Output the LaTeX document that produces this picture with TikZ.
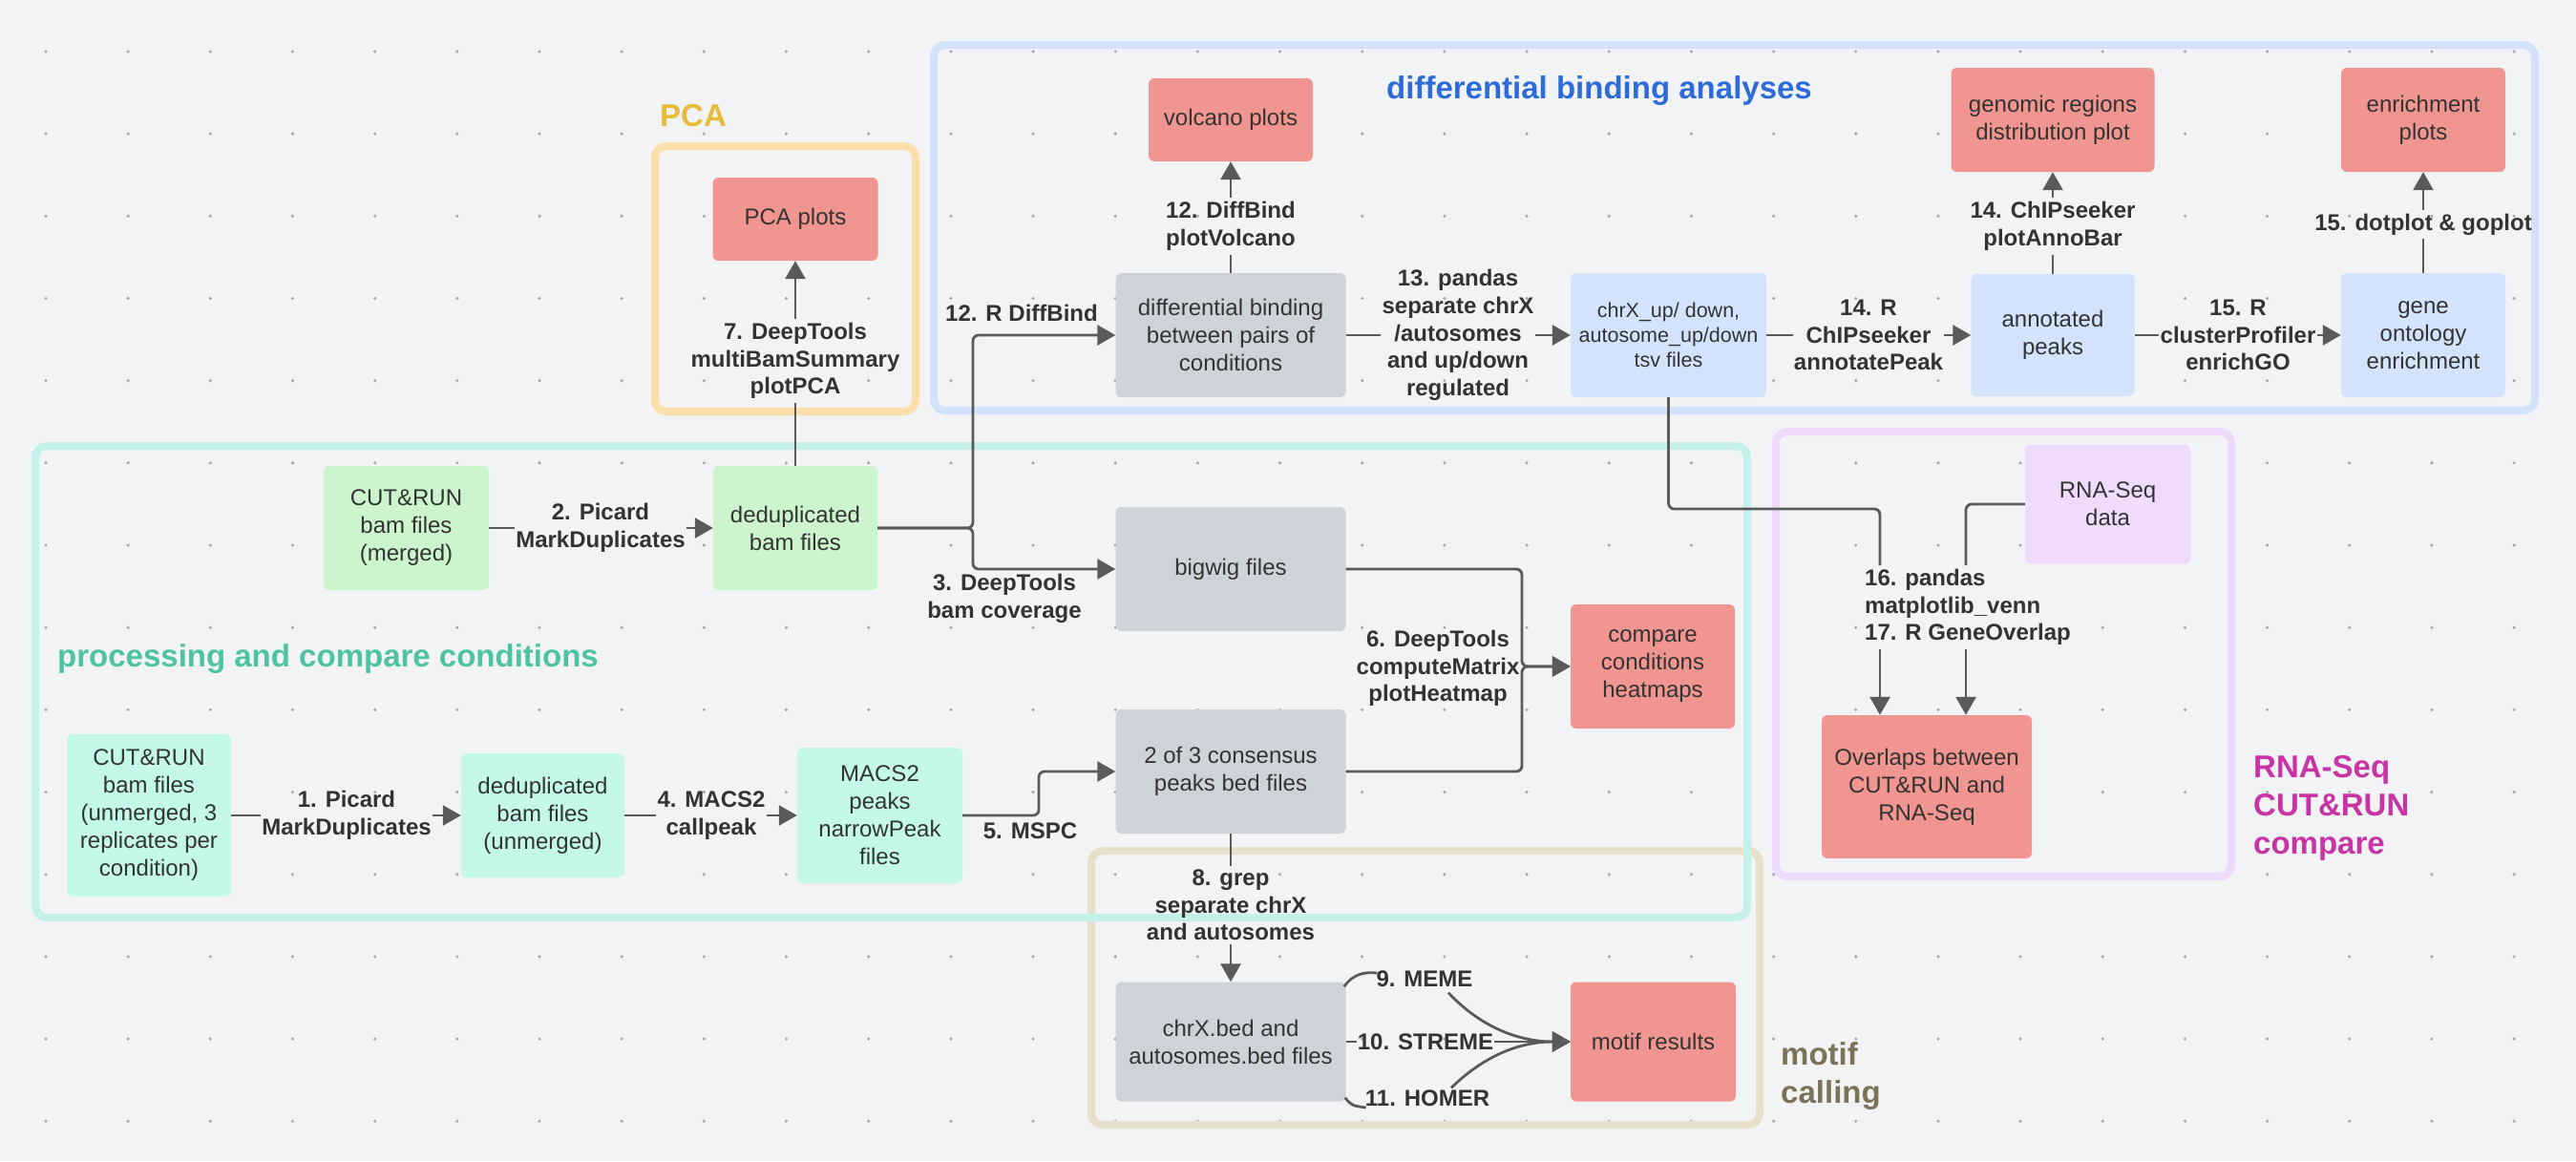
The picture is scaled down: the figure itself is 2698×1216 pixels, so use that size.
\documentclass[tikz,border=0pt]{standalone}
\usepackage{fontspec}
\setmainfont{Liberation Sans}
\usetikzlibrary{arrows.meta,calc}
\definecolor{bg}{HTML}{F2F3F5}
\definecolor{dotc}{HTML}{A3A6AA}
\definecolor{salmon}{HTML}{F09590}
\definecolor{grayB}{HTML}{CED3DA}
\definecolor{blueB}{HTML}{D3E3FC}
\definecolor{greenB}{HTML}{CCF5CD}
\definecolor{mintB}{HTML}{C4F9EA}
\definecolor{purpB}{HTML}{F0DBFD}
\definecolor{txt}{HTML}{333333}
\definecolor{connc}{HTML}{5A5A5A}
\definecolor{pcaF}{HTML}{FBDEA9}
\definecolor{pcaT}{HTML}{E6BD38}
\definecolor{blueF}{HTML}{D3E2FB}
\definecolor{blueT}{HTML}{2D6BDA}
\definecolor{tealF}{HTML}{C4F2EA}
\definecolor{tealT}{HTML}{4EC3A2}
\definecolor{motifF}{HTML}{E7E1CB}
\definecolor{motifT}{HTML}{7B7258}
\definecolor{purpF}{HTML}{EEDBFB}
\definecolor{purpT}{HTML}{C833A6}
\begin{document}
\begin{tikzpicture}[x=1pt,y=-1pt,
  box/.style={rectangle, rounded corners=6pt, align=center, inner sep=2pt, text=txt,
    font=\fontsize{24pt}{29pt}\selectfont},
  lbl/.style={align=center, inner xsep=1pt, inner ysep=4pt, text=txt,
    font=\fontsize{24pt}{28.6pt}\selectfont\bfseries},
  conn/.style={draw=connc, line width=2.8pt, rounded corners=6pt},
  arr/.style={conn, -{Triangle[length=19pt,width=21pt]}},
  frame/.style={line width=8pt, rounded corners=12pt},
  title/.style={font=\fontsize{33pt}{40pt}\selectfont\bfseries, align=left, inner sep=0pt}
]
\useasboundingbox (0,0) rectangle (2698,1216);
\fill[bg] (0,0) rectangle (2698,1216);
% dot grid
\foreach \i in {0,...,30} {
  \foreach \j in {0,...,13} {
    \fill[dotc] ({48+86.17*\i},{54+86.17*\j}) circle (1.7pt);
  }
}
% frames
\draw[frame, draw=pcaF] (686,153) rectangle (959,431);
\draw[frame, draw=blueF] (978,47) rectangle (2655,430);
\draw[frame, draw=motifF] (1143,891) rectangle (1843,1178);
\draw[frame, draw=tealF] (37,467) rectangle (1830,961);
\draw[frame, draw=purpF] (1860,452) rectangle (2337,918);
% titles
\node[title, text=pcaT] (tpca) at (726,121) {PCA};
\node[title, text=blueT] (tdiff) at (1675,95) {differential binding analyses};
\node[title, text=tealT, anchor=west] (tproc) at (60,690) {processing and compare conditions};
\node[title, text=motifT, anchor=west] (tmotif) at (1865,1127) {motif\\calling};
\node[title, text=purpT, anchor=west] (trna) at (2360,846) {RNA-Seq\\CUT\&RUN\\compare};
% boxes
\node[box, fill=salmon, minimum width=173pt, minimum height=87pt] (pca) at (833,229.5) {PCA plots};
\node[box, fill=salmon, minimum width=172pt, minimum height=87pt] (volc) at (1289,125.5) {volcano plots};
\node[box, fill=salmon, minimum width=213pt, minimum height=109pt] (geno) at (2150,125.5) {genomic regions\\distribution plot};
\node[box, fill=salmon, minimum width=172pt, minimum height=109pt] (enr) at (2538,125.5) {enrichment\\plots};
\node[box, fill=grayB, minimum width=241pt, minimum height=130pt] (diff) at (1289,351) {differential binding\\between pairs of\\conditions};
\node[box, fill=blueB, minimum width=205pt, minimum height=130pt, font=\fontsize{21.5pt}{26pt}\selectfont] (chrx) at (1747.5,351) {chrX\_up/ down,\\autosome\_up/down\\tsv files};
\node[box, fill=blueB, minimum width=171pt, minimum height=128pt] (anno) at (2150,351) {annotated\\peaks};
\node[box, fill=blueB, minimum width=172pt, minimum height=130pt] (gene) at (2538,351) {gene\\ontology\\enrichment};
\node[box, fill=greenB, minimum width=173pt, minimum height=130pt] (cutM) at (425.5,553) {CUT\&RUN\\bam files\\(merged)};
\node[box, fill=greenB, minimum width=172pt, minimum height=130pt] (dedM) at (833,553) {deduplicated\\bam files};
\node[box, fill=grayB, minimum width=241pt, minimum height=130pt] (bigw) at (1289,596) {bigwig files};
\node[box, fill=salmon, minimum width=172pt, minimum height=130pt] (cmp) at (1731,698) {compare\\conditions\\heatmaps};
\node[box, fill=grayB, minimum width=241pt, minimum height=130pt] (cons) at (1289,808) {2 of 3 consensus\\peaks bed files};
\node[box, fill=mintB, minimum width=172pt, minimum height=170pt] (cutU) at (156,854) {CUT\&RUN\\bam files\\(unmerged, 3\\replicates per\\condition)};
\node[box, fill=mintB, minimum width=171pt, minimum height=130pt] (dedU) at (568.5,854) {deduplicated\\bam files\\(unmerged)};
\node[box, fill=mintB, minimum width=173pt, minimum height=142pt] (macs) at (921.5,854) {MACS2\\peaks\\narrowPeak\\files};
\node[box, fill=purpB, minimum width=173pt, minimum height=125pt] (rna) at (2207.5,528) {RNA-Seq\\data};
\node[box, fill=salmon, minimum width=220pt, minimum height=150pt] (ovl) at (2018,824) {Overlaps between\\CUT\&RUN and\\RNA-Seq};
\node[box, fill=grayB, minimum width=241pt, minimum height=125pt] (bed) at (1289,1091) {chrX.bed and\\autosomes.bed files};
\node[box, fill=salmon, minimum width=173pt, minimum height=125pt] (motif) at (1731.5,1091) {motif results};
% labels
\node[lbl] (l1) at (363,854) {1. Picard\\MarkDuplicates};
\node[lbl] (l2) at (629,553) {2. Picard\\MarkDuplicates};
\node[lbl] (l3) at (1052,627) {3. DeepTools\\bam coverage};
\node[lbl] (l4) at (745,854) {4. MACS2\\callpeak};
\node[lbl] (l5) at (1079,870) {5. MSPC};
\node[lbl] (l6) at (1506,700) {6. DeepTools\\computeMatrix\\plotHeatmap};
\node[lbl] (l7) at (833,378) {7. DeepTools\\multiBamSummary\\plotPCA};
\node[lbl] (l8) at (1289,948) {8. grep\\separate chrX\\and autosomes};
\node[lbl] (l9) at (1492,1025) {9. MEME};
\node[lbl] (l10) at (1493,1091) {10. STREME};
\node[lbl] (l11) at (1495,1150) {11. HOMER};
\node[lbl] (l12) at (1070,328) {12. R DiffBind};
\node[lbl] (l12b) at (1289,237) {12. DiffBind\\plotVolcano};
\node[lbl] (l13) at (1527,351) {13. pandas\\separate chrX\\/autosomes\\and up/down\\regulated};
\node[lbl] (l14) at (1957,351) {14. R\\ChIPseeker\\annotatePeak};
\node[lbl] (l14b) at (2150,237) {14. ChIPseeker\\plotAnnoBar};
\node[lbl] (l15) at (2344,351) {15. R\\clusterProfiler\\enrichGO};
\node[lbl] (l15b) at (2538,235) {15. dotplot \& goplot};
\node[lbl, align=left, anchor=west, inner xsep=0pt] (l16) at (1953,636) {16. pandas\\matplotlib\_venn\\17. R GeneOverlap};
% connectors
\draw[arr] (cutU) -- (l1) -- (dedU);
\draw[arr] (cutM) -- (l2) -- (dedM);
\draw[arr] (dedU) -- (l4) -- (macs);
\coordinate (j3) at (1019,553);
\draw[arr] (dedM) -- (j3) |- (diff.west);
\draw[arr] (dedM) -- (j3) |- (bigw.west);
\coordinate (j5) at (1088,854);
\draw[arr] (macs) -- (j5) |- (cons.west);
\coordinate (j6) at (1594,698);
\draw[arr] (bigw.east) -| (j6) -- (cmp.west);
\draw[arr] (cons.east) -| (j6) -- (cmp.west);
\draw[arr] (dedM) -- (l7) -- (pca);
\draw[arr] (cons) -- (l8) -- (bed);
\draw[arr] (diff) -- (l12b) -- (volc);
\draw[arr] (diff) -- (l13) -- (chrx);
\draw[arr] (chrx) -- (l14) -- (anno);
\draw[arr] (anno) -- (l14b) -- (geno);
\draw[arr] (anno) -- (l15) -- (gene);
\draw[arr] (gene) -- (l15b) -- (enr);
\draw[arr] (bed) -- (l10) -- (motif);
\draw[conn] ($(bed.north east)+(-2,5)$) .. controls (1418,1019) and (1430,1018) .. ($(l9.west)+(2,-6)$);
\draw[arr] ($(l9.south)+(25,2)$) .. controls (1550,1075) and (1590,1091) .. (motif.west);
\draw[arr] ($(l11.north)+(25,2)$) .. controls (1553,1107) and (1590,1091) .. (motif.west);
\draw[conn] ($(bed.south east)+(-1,-4)$) .. controls (1416,1158) .. ($(l11.west)+(2,10)$);
\coordinate (j16) at (1969,533);
\draw[conn] (chrx.south) |- (j16) -- (j16 |- l16.north);
\draw[arr] (j16 |- l16.south) -- (j16 |- ovl.north);
\coordinate (r16) at (2059,528);
\draw[conn] (rna.west) -- (r16) -- (r16 |- l16.north);
\draw[arr] (r16 |- l16.south) -- (r16 |- ovl.north);
\end{tikzpicture}
\end{document}
